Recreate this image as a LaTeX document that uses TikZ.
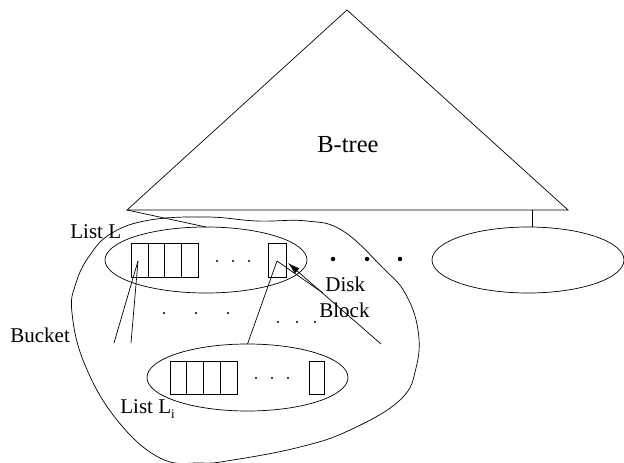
\documentclass[tikz,border=0pt]{standalone}
\usepackage{fontspec}
\setmainfont{Liberation Serif}
\usetikzlibrary{shapes.geometric,arrows.meta}
\begin{document}
\begin{tikzpicture}[x=1pt,y=-1pt,line width=0.7pt,
  cell/.style={draw,rectangle,minimum width=16.7pt,minimum height=34pt,inner sep=0pt,outer sep=0pt},
  oval/.style={draw,ellipse,inner sep=0pt,outer sep=0pt},
  lbl/.style={font=\fontsize{21}{25}\selectfont,inner sep=0pt,anchor=base west},
  sdot/.style={circle,fill,inner sep=0pt,minimum size=2.2pt},
  bdot/.style={circle,fill,inner sep=0pt,minimum size=4.5pt}]
\useasboundingbox (0,0) rectangle (624,463);
% B-tree triangle
\coordinate (tA) at (347,10);
\coordinate (tL) at (127,210);
\coordinate (tR) at (568,210);
\coordinate (tB) at (532,210);
\draw (tA) -- (tR) -- (tL) -- cycle;
\node[font=\fontsize{24.5}{28}\selectfont,inner sep=0pt,anchor=base west] (bt) at (317,152) {B-tree};
% bucket blob
\draw plot[smooth cycle,tension=0.7] coordinates {
 (150,220) (207,217) (257,221) (307,221) (343,231) (383,268) (405,293) (418,330)
 (416,368) (400,400) (350,430) (300,447) (233,460) (200,463) (160,458) (117,420)
 (85,365) (72,313) (76,283) (90,255) (112,233)};
% ellipses
\node[oval,minimum width=202pt,minimum height=66pt] (LL) at (206,260) {};
\node[oval,minimum width=201pt,minimum height=67pt] (LI) at (247.5,377.5) {};
\node[oval,minimum width=192pt,minimum height=66pt] (RE) at (528,260) {};
\draw (tL) -- (LL.north);
\draw (tB) -- (tB |- RE.north);
% list L cells
\node[cell] (a1) at (139.5,260) {};
\node[cell] (a2) at (156.2,260) {};
\node[cell] (a3) at (172.9,260) {};
\node[cell] (a4) at (189.6,260) {};
\node[cell,minimum width=18pt] (aB) at (277,260) {};
\node[sdot] (d1) at (217,261) {};
\node[sdot] (d2) at (233,261) {};
\node[sdot] (d3) at (249,261) {};
% list Li cells
\node[cell,minimum height=33pt] (b1) at (178.4,377.5) {};
\node[cell,minimum height=33pt] (b2) at (195.1,377.5) {};
\node[cell,minimum height=33pt] (b3) at (211.8,377.5) {};
\node[cell,minimum height=33pt] (b4) at (228.5,377.5) {};
\node[cell,minimum width=15pt,minimum height=33pt] (bB) at (316.5,377.5) {};
\node[sdot] (e1) at (256,378) {};
\node[sdot] (e2) at (272,378) {};
\node[sdot] (e3) at (288,378) {};
% middle dots
\node[sdot] (m1) at (164,313) {};
\node[sdot] (m2) at (196,313) {};
\node[sdot] (m3) at (228,313) {};
\node[sdot] (n1) at (278,322) {};
\node[sdot] (n2) at (297,322) {};
\node[sdot] (n3) at (315,322) {};
\node[bdot] (g1) at (333,259) {};
\node[bdot] (g2) at (367,259) {};
\node[bdot] (g3) at (400,259) {};
% pointer lines
\coordinate (p1) at (138,261);
\coordinate (q1) at (114,343);
\coordinate (q2) at (131,343);
\coordinate (p2) at (277,261);
\coordinate (q3) at (323,293);
\coordinate (aS) at (381,344);
\coordinate (aT) at (288,263);
\draw (p1) -- (q1);
\draw (p1) -- (q2);
\draw (p2) -- (LI.north);
\draw (p2) -- (q3);
\draw[-{Latex[length=12pt,width=7pt]}] (aS) -- (aT);
% labels
\node[lbl] (lL) at (70,238) {List L};
\node[lbl] (lB) at (10,342) {Bucket};
\node[lbl] (lI) at (120,413) {List L\raisebox{-5pt}{\fontsize{13}{13}\selectfont i}};
\node[lbl] (lD) at (325,291) {Disk};
\node[lbl] (lK) at (319,317) {Block};
\end{tikzpicture}
\end{document}
